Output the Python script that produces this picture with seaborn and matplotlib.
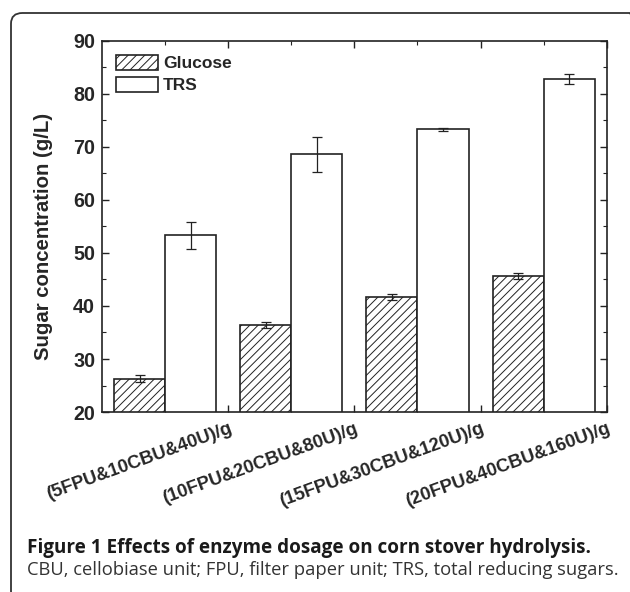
import matplotlib
matplotlib.use("Agg")
import matplotlib.pyplot as plt
from matplotlib.patches import FancyBboxPatch
import numpy as np
import pandas as pd
import seaborn as sns

# data
dosages = ["(5FPU&10CBU&40U)/g", "(10FPU&20CBU&80U)/g",
           "(15FPU&30CBU&120U)/g", "(20FPU&40CBU&160U)/g"]
glucose = [26.3, 36.4, 41.7, 45.6]
glucose_err = [0.6, 0.6, 0.6, 0.6]
trs = [53.3, 68.6, 73.3, 82.8]
trs_err = [2.5, 3.3, 0.3, 1.0]
sugars = ["Glucose", "TRS"]

df = pd.DataFrame({
    "dosage": dosages * 2,
    "sugar": ["Glucose"] * 4 + ["TRS"] * 4,
    "value": glucose + trs,
    "err": glucose_err + trs_err,
})

sns.set_style("ticks")
plt.rcParams["font.family"] = ["Liberation Sans", "DejaVu Sans"]
plt.rcParams["hatch.linewidth"] = 0.7

fig = plt.figure(figsize=(6.3, 5.92), dpi=100)
ax = fig.add_axes([0.162, 0.304, 0.801, 0.627])

sns.barplot(data=df, x="dosage", y="value", hue="sugar", hue_order=sugars,
            order=dosages, palette=["white", "white"], edgecolor="#222222",
            linewidth=1.2, width=0.81, errorbar=None, ax=ax)

# hatch the glucose bars and draw error bars at bar centres
for container, name in zip(ax.containers, sugars):
    sub = df[df.sugar == name]
    for patch, v, e in zip(container.patches, sub.value, sub.err):
        if name == "Glucose":
            patch.set_hatch("////")
        xc = patch.get_x() + patch.get_width() / 2
        ax.errorbar(xc, v, yerr=e, color="#222222", capsize=3.5,
                    elinewidth=0.9, capthick=0.9, zorder=5)

ax.set_xlim(-0.5, 3.5)
ax.set_ylim(20, 90)
ax.set_yticks(np.arange(20, 91, 10))
ax.set_yticks(np.arange(20, 91, 5), minor=True)
ax.set_xticks([0.5, 1.5, 2.5, 3.5])
ax.set_xticks([0, 1, 2, 3], minor=True)
ax.set_xticklabels(dosages, rotation=20, ha="right", rotation_mode="anchor",
                   fontsize=13.2, fontweight="bold")
for lab in ax.get_yticklabels():
    lab.set_fontsize(14.2)
    lab.set_fontweight("bold")
ax.tick_params(which="both", direction="in", top=True, right=True,
               color="#222222")
ax.tick_params(which="major", length=5, width=1)
ax.tick_params(which="minor", length=3, width=0.8)
ax.tick_params(axis="x", which="major", pad=6)
ax.tick_params(axis="y", which="major", pad=5)
for s in ax.spines.values():
    s.set_linewidth(1.2)
    s.set_color("#222222")

ax.set_xlabel("")
ax.set_ylabel("Sugar concentration (g/L)", fontsize=14.7, fontweight="bold")
ax.yaxis.set_label_coords(-0.097, 0.474)

leg = ax.legend(loc="upper left", frameon=False,
                prop={"weight": "bold", "size": 12.5},
                handlelength=2.4, handleheight=1.0, handletextpad=0.3,
                labelspacing=0.3, borderaxespad=0.4)
leg.legend_handles[0].set_hatch("////")

# rounded frame around the whole figure
frame = FancyBboxPatch((11 / 630, -10 / 592), 630 / 630, 589 / 592,
                       boxstyle="round,pad=0,rounding_size=0.018",
                       transform=fig.transFigure, fill=False,
                       edgecolor="#333333", linewidth=1.3)
fig.patches.append(frame)

fig.text(27 / 630, 1 - 548 / 592,
         "Figure 1 Effects of enzyme dosage on corn stover hydrolysis.",
         fontsize=13.6, fontweight="bold", family=["Open Sans", "DejaVu Sans"],
         va="center", ha="left", color="#1a1a1a")
fig.text(27 / 630, 1 - 570 / 592,
         "CBU, cellobiase unit; FPU, filter paper unit; TRS, total reducing sugars.",
         fontsize=13.2, family=["Open Sans", "DejaVu Sans"],
         va="center", ha="left", color="#333333")

fig.savefig("out.png", dpi=100)
